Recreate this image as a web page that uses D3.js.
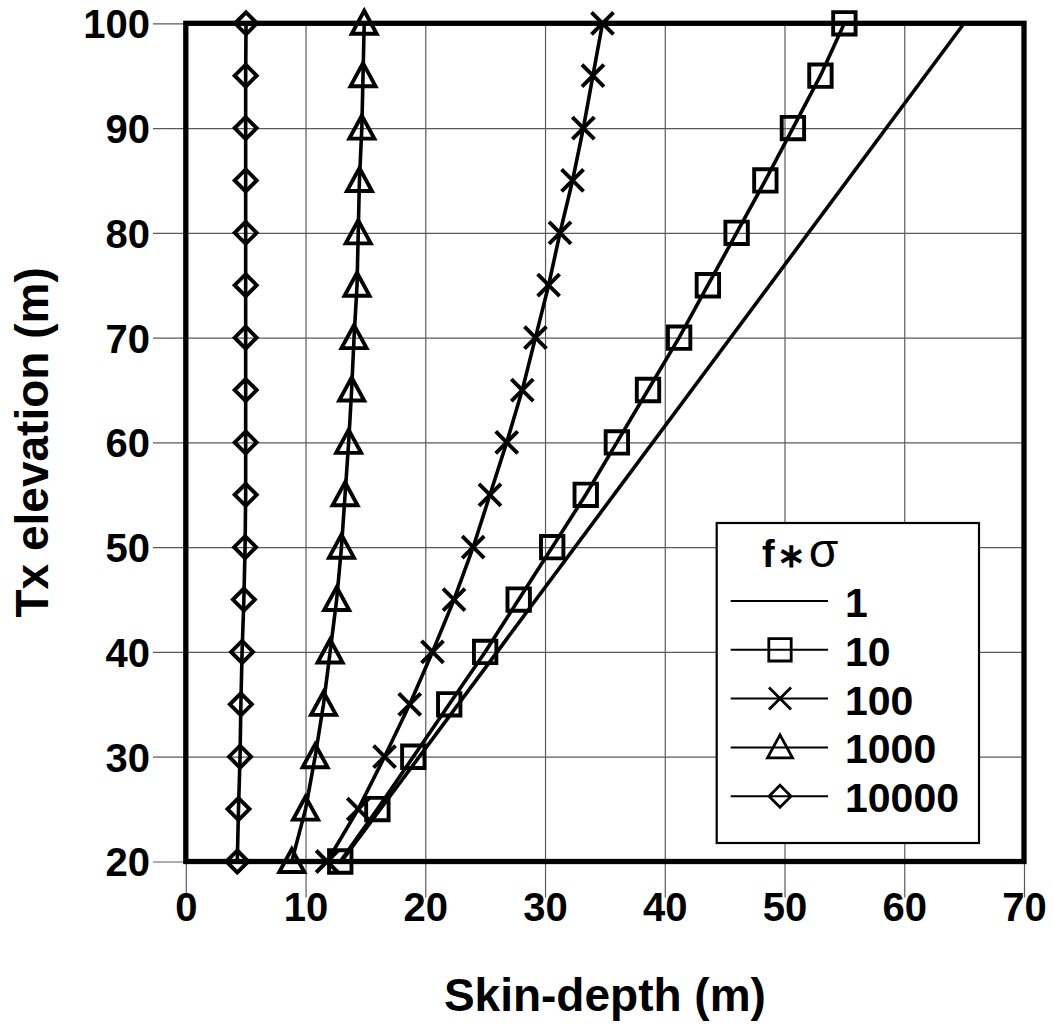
<!DOCTYPE html>
<html>
<head>
<meta charset="utf-8">
<script src="https://cdn.jsdelivr.net/npm/d3@7"></script>
<style>
  html, body { margin: 0; padding: 0; background: #fff; }
  svg { display: block; }
  text { font-family: "Liberation Sans", Arial, sans-serif; font-weight: bold; fill: #000; }
</style>
</head>
<body>
<svg id="chart" width="1053" height="1027"></svg>
<script>
// ---- data ----
const xTicks = [0, 10, 20, 30, 40, 50, 60, 70];
const yTicks = [20, 30, 40, 50, 60, 70, 80, 90, 100];
const legendTitle = "f\u2217";
const legendLabels = ["1", "10", "100", "1000", "10000"];
const xLabel = "Skin-depth (m)";
const yLabel = "Tx elevation (m)";

const heights1 = [20, 100];
const depth1 = [13.0, 65.0];

const heights = [20, 25, 30, 35, 40, 45, 50, 55, 60, 65, 70, 75, 80, 85, 90, 95, 100];
const depth10 = [12.9, 16.0, 19.0, 22.0, 25.0, 27.8, 30.6, 33.4, 36.0, 38.6, 41.2, 43.6, 46.0, 48.4, 50.7, 53.0, 55.0];
const depth100 = [11.8, 14.4, 16.6, 18.7, 20.6, 22.4, 24.0, 25.4, 26.8, 28.1, 29.2, 30.3, 31.25, 32.3, 33.2, 34.0, 34.8];
const depth1000 = [8.85, 10.0, 10.8, 11.5, 12.05, 12.6, 13.0, 13.3, 13.6, 13.85, 14.05, 14.3, 14.4, 14.5, 14.7, 14.8, 14.9];
const depth10000 = [4.3, 4.4, 4.53, 4.6, 4.7, 4.85, 4.95, 5.0, 5.0, 5.0, 5.0, 5.0, 5.0, 5.0, 5.0, 5.0, 5.03];

// ---- layout ----
const L = 185.8, R = 1024, T = 23.3, B = 861.5;
const svg = d3.select("#chart");
const x = d3.scaleLinear().domain([0, 70]).range([L, R]);
const y = d3.scaleLinear().domain([20, 100]).range([B, T]);

// grid via axes
const gx = svg.append("g").attr("transform", `translate(0,${T})`)
  .call(d3.axisBottom(x).tickValues(xTicks).tickSizeInner(897.5 - T).tickSizeOuter(0).tickPadding(-4.5));
gx.select(".domain").remove();
gx.selectAll("line").attr("stroke", "#5a5a5a").attr("stroke-width", 1.2);
gx.selectAll("text").style("font-size", "40px").attr("fill", "#000");

const gy = svg.append("g").attr("transform", `translate(${R},0)`)
  .call(d3.axisLeft(y).tickValues(yTicks).tickSizeInner(R - 153).tickSizeOuter(0).tickPadding(3));
gy.select(".domain").remove();
gy.selectAll("line").attr("stroke", "#5a5a5a").attr("stroke-width", 1.2);
gy.selectAll("text").style("font-size", "40px").attr("fill", "#000").attr("dy", "0.36em");

// plot border
svg.append("rect").attr("x", L).attr("y", T).attr("width", R - L).attr("height", B - T)
  .attr("fill", "none").attr("stroke", "#000").attr("stroke-width", 5.3);

// axis titles
svg.append("text").attr("x", (L + R) / 2).attr("y", 1011).attr("text-anchor", "middle")
  .style("font-size", "46px").text(xLabel);
svg.append("text").attr("transform", `translate(48,${(T + B) / 2}) rotate(-90)`).attr("text-anchor", "middle")
  .style("font-size", "46px").text(yLabel);

// markers
function marker(g, type, cx, cy, sw) {
  const p = g.append("path").attr("fill", "none").attr("stroke", "#000").attr("stroke-width", sw)
    .attr("stroke-linejoin", "miter");
  let d = "";
  if (type === "square") {
    const s = 11.2;
    d = `M${cx - s},${cy - s}H${cx + s}V${cy + s}H${cx - s}Z`;
  } else if (type === "x") {
    const s = 11;
    d = `M${cx - s},${cy - s}L${cx + s},${cy + s}M${cx - s},${cy + s}L${cx + s},${cy - s}`;
  } else if (type === "triangle") {
    d = `M${cx},${cy - 12.5}L${cx + 12.5},${cy + 10.5}L${cx - 12.5},${cy + 10.5}Z`;
  } else if (type === "diamond") {
    const s = 11;
    d = `M${cx},${cy - s}L${cx + s},${cy}L${cx},${cy + s}L${cx - s},${cy}Z`;
  }
  p.attr("d", d);
}

const line = d3.line().x(d => x(d[0])).y(d => y(d[1]));
const series = [
  { vals: depth1, hs: heights1, type: null },
  { vals: depth10, hs: heights, type: "square" },
  { vals: depth100, hs: heights, type: "x" },
  { vals: depth1000, hs: heights, type: "triangle" },
  { vals: depth10000, hs: heights, type: "diamond" }
];

const gS = svg.append("g");
series.forEach(s => {
  const pts = s.vals.map((v, i) => [v, s.hs[i]]);
  gS.append("path").attr("d", line(pts)).attr("fill", "none").attr("stroke", "#000")
    .attr("stroke-width", 3.6).attr("stroke-linejoin", "round");
  if (s.type) pts.forEach(p => marker(gS, s.type, x(p[0]), y(p[1]), 3.9));
});

// legend
const lg = svg.append("g");
lg.append("rect").attr("x", 716.7).attr("y", 523).attr("width", 979 - 716.7).attr("height", 843 - 523)
  .attr("fill", "#fff").attr("stroke", "#000").attr("stroke-width", 2.2);
const title = lg.append("text").attr("x", 762).attr("y", 567);
title.append("tspan").style("font-size", "38px").text("f");
title.append("tspan").style("font-size", "34px").attr("dx", "2").text("\u2217");
title.append("tspan").style("font-size", "48px").style("font-weight", "normal").attr("dx", "4").text("\u03c3");

legendLabels.forEach((lab, i) => {
  const ly = 601 + i * 48.8;
  lg.append("line").attr("x1", 730.7).attr("x2", 828).attr("y1", ly).attr("y2", ly)
    .attr("stroke", "#000").attr("stroke-width", 2);
  if (series[i].type) marker(lg, series[i].type, 780, ly, 2.8);
  lg.append("text").attr("x", 845).attr("y", ly + 16).style("font-size", "41px").text(lab);
});
</script>
</body>
</html>
